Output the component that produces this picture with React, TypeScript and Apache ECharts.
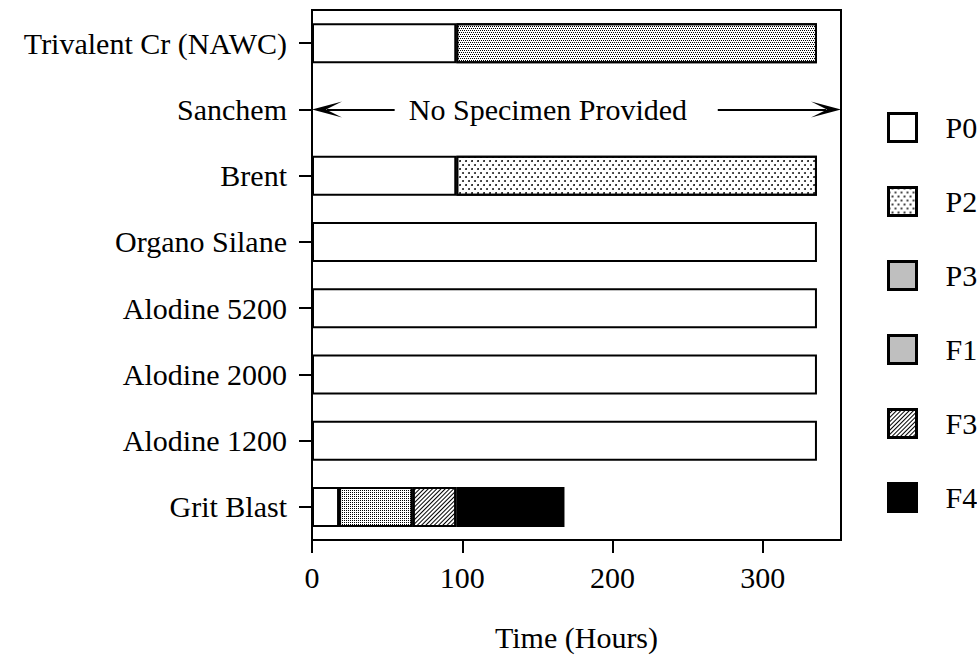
import React, { useEffect, useRef } from "react";
import * as echarts from "echarts";

const categories = [
  "Trivalent Cr (NAWC)",
  "Sanchem",
  "Brent",
  "Organo Silane",
  "Alodine 5200",
  "Alodine 2000",
  "Alodine 1200",
  "Grit Blast",
];
// durations (hours) of each stage, stacked left to right
const p0 = [96, null, 96, 336, 336, 336, 336, 18];
const p2 = [null, null, 240, null, null, null, null, null];
const p3 = [240, null, null, null, null, null, null, null];
const f1 = [null, null, null, null, null, null, null, 49];
const f3 = [null, null, null, null, null, null, null, 29];
const f4 = [null, null, null, null, null, null, null, 72];

const xTicks = [0, 100, 200, 300];
const xMax = 352;

const noSpecimenCategory = "Sanchem";
const noSpecimenText = "No Specimen Provided";
const noSpecimenTextAt = 157;
const leftArrow = [55, 10];
const rightArrow = [270, 342];

const FONT = "'Liberation Serif', 'Times New Roman', serif";

const arrowPath = "path://M10,0 L20,30 L10,14 L0,30 Z";

export default function App() {
  const ref = useRef<HTMLDivElement>(null);
  useEffect(() => {
    if (!ref.current) return;
    const chart = echarts.init(ref.current, null, { renderer: "svg" });
    const border = { borderColor: "#000", borderWidth: 2 };
    const mk = (name: string, data: any[], color: string, decal?: any) => ({
      name,
      type: "bar",
      stack: "t",
      barWidth: 40,
      data,
      itemStyle: { color, ...border, ...(decal ? { decal } : {}) },
    });
    chart.setOption({
      animation: false,
      backgroundColor: "#fff",
      textStyle: { fontFamily: FONT, color: "#000" },
      grid: {
        left: 312,
        right: 136,
        top: 10,
        bottom: 122,
        show: true,
        borderColor: "#000",
        borderWidth: 2,
        backgroundColor: "transparent",
      },
      legend: {
        orient: "vertical",
        left: 882,
        top: 107,
        itemWidth: 28,
        itemHeight: 28,
        itemGap: 43,
        icon: "rect",
        data: ["P0", "P2", "P3", "F1", "F3", "F4"],
        textStyle: { fontFamily: FONT, fontSize: 30, color: "#000", padding: [0, 0, 0, 24] },
        itemStyle: { borderColor: "#000", borderWidth: 3 },
      },
      xAxis: {
        type: "value",
        min: 0,
        max: xMax,
        interval: 100,
        name: "Time (Hours)",
        nameLocation: "middle",
        nameGap: 82,
        nameTextStyle: { fontFamily: FONT, fontSize: 30, color: "#000" },
        axisLine: { show: true, lineStyle: { color: "#000", width: 2 } },
        axisTick: { show: true, length: 13, lineStyle: { color: "#000", width: 2 } },
        axisLabel: {
          fontFamily: FONT,
          fontSize: 30,
          color: "#000",
          margin: 22,
          showMaxLabel: false,
          formatter: (v: number) => (xTicks.includes(v) ? String(v) : ""),
        },
        splitLine: { show: false },
      },
      yAxis: {
        type: "category",
        inverse: true,
        data: categories,
        axisLine: { show: true, lineStyle: { color: "#000", width: 2 } },
        axisTick: { show: true, alignWithLabel: true, length: 13, lineStyle: { color: "#000", width: 2 } },
        axisLabel: { fontFamily: FONT, fontSize: 30, color: "#000", margin: 25 },
        splitLine: { show: false },
      },
      series: [
        mk("P0", p0, "#fff"),
        mk("P2", p2, "#fff", {
          symbol: "circle",
          symbolSize: 0.9,
          dashArrayX: [[2, 4], [0, 3, 2, 1]],
          dashArrayY: [2, 2],
          color: "#000",
        }),
        mk("P3", p3, "#fff", {
          symbol: "rect",
          symbolSize: 1,
          dashArrayX: [[1, 1], [0, 1, 1, 0]],
          dashArrayY: [1, 1],
          color: "#000",
        }),
        mk("F1", f1, "#fff", {
          symbol: "rect",
          symbolSize: 1,
          dashArrayX: [[1, 1]],
          dashArrayY: [1, 1],
          color: "#000",
        }),
        mk("F3", f3, "#fff", {
          symbol: "rect",
          symbolSize: 1,
          dashArrayX: [[1, 0]],
          dashArrayY: [1, 1.5],
          rotation: -Math.PI / 4,
          color: "#000",
        }),
        mk("F4", f4, "#000"),
        {
          name: "annotation",
          type: "scatter",
          symbolSize: 0,
          itemStyle: { opacity: 1, color: "#000" },
          data: [[noSpecimenTextAt, noSpecimenCategory]],
          label: {
            show: true,
            position: "inside",
            formatter: noSpecimenText,
            fontFamily: FONT,
            fontSize: 30,
            color: "#000",
            opacity: 1,
          },
          markLine: {
            silent: true,
            symbol: ["none", arrowPath],
            symbolSize: [16, 30],
            label: { show: false },
            lineStyle: { color: "#000", width: 2, type: "solid", opacity: 1 },
            data: [
              [{ coord: [leftArrow[0], noSpecimenCategory] }, { coord: [leftArrow[1], noSpecimenCategory] }],
              [{ coord: [rightArrow[0], noSpecimenCategory] }, { coord: [rightArrow[1], noSpecimenCategory] }],
            ],
          },
        },
      ],
    });
    return () => chart.dispose();
  }, []);
  return (
    <div
      ref={ref}
      style={{ position: "fixed", left: 0, top: 0, width: 977, height: 662 }}
    />
  );
}
